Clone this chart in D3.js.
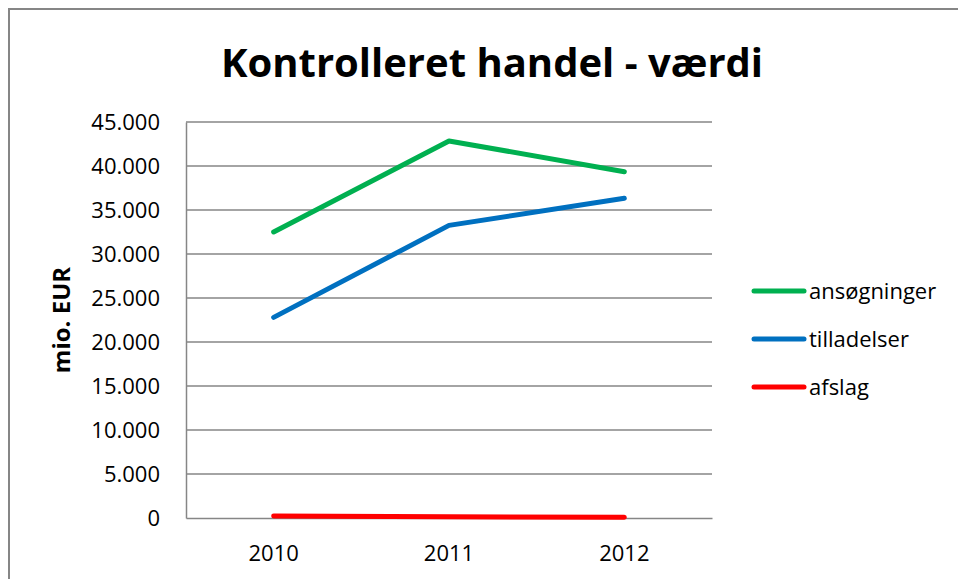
<!DOCTYPE html>
<html>
<head>
<meta charset="utf-8">
<script src="https://cdn.jsdelivr.net/npm/d3@7"></script>
<style>
  body { margin: 0; background: #fff; }
  text { font-family: "Open Sans", "Noto Sans", sans-serif; fill: #000; }
</style>
</head>
<body>
<div id="chart-area"></div>
<script>
let years = ["2010", "2011", "2012"]
let ansoegninger = [32500, 42850, 39350]
let tilladelser = [22800, 33250, 36330]
let afslag = [230, 150, 80]
let seriesNames = ["ansøgninger", "tilladelser", "afslag"]
let seriesColors = ["#00b050", "#0070c0", "#ff0000"]
let yTicks = [0, 5000, 10000, 15000, 20000, 25000, 30000, 35000, 40000, 45000]

let margin = { top: 122, right: 246, bottom: 61, left: 186 }
let width = 958, height = 579
let canvasWidth = width - margin.left - margin.right
let canvasHeight = height - margin.top - margin.bottom

let svg = d3.select("#chart-area").append("svg")
  .attr("width", width)
  .attr("height", height)

// outer frame (runs off the right and bottom edge)
svg.append("rect")
  .attr("x", 9).attr("y", 9)
  .attr("width", 960).attr("height", 600)
  .attr("fill", "none")
  .attr("stroke", "#868686")
  .attr("stroke-width", 2)

svg.append("text")
  .attr("x", 492).attr("y", 77)
  .attr("text-anchor", "middle")
  .style("font-size", "40px")
  .style("font-weight", "bold")
  .text("Kontrolleret handel - værdi")

let g = svg.append("g")
  .attr("transform", "translate(" + margin.left + "," + margin.top + ")")

let x = d3.scaleBand().domain(years).range([0, canvasWidth])
let y = d3.scaleLinear().domain([0, 45000]).range([canvasHeight, 0])

let fmt = v => d3.format(",")(v).replace(/,/g, ".")

// gridlines
g.selectAll(".grid").data(yTicks.filter(d => d > 0)).enter()
  .append("line")
    .attr("x1", 0).attr("x2", canvasWidth)
    .attr("y1", d => y(d)).attr("y2", d => y(d))
    .attr("stroke", "#868686")
    .attr("stroke-width", 1.5)

let yAxis = g.append("g")
  .call(d3.axisLeft(y).tickValues(yTicks).tickFormat(fmt).tickSize(0).tickPadding(26))
yAxis.select(".domain").attr("stroke", "#868686").attr("stroke-width", 1.5)
yAxis.selectAll("text").style("font-size", "22px").attr("font-family", null).attr("dy", "0.35em")

let xAxis = g.append("g")
  .attr("transform", "translate(0," + canvasHeight + ")")
  .call(d3.axisBottom(x).tickSize(0).tickPadding(27))
xAxis.select(".domain").attr("stroke", "#868686").attr("stroke-width", 1.5)
xAxis.selectAll("text").style("font-size", "22px").attr("font-family", null)

svg.append("text")
  .attr("transform", "translate(70," + (margin.top + canvasHeight / 2) + ") rotate(-90)")
  .attr("text-anchor", "middle")
  .style("font-size", "24px")
  .style("font-weight", "bold")
  .text("mio. EUR")

let allSeries = [ansoegninger, tilladelser, afslag]
let line = d3.line()
  .x((d, i) => x(years[i]) + x.bandwidth() / 2)
  .y(d => y(d))

g.selectAll(".series").data(allSeries).enter()
  .append("path")
    .attr("d", d => line(d))
    .attr("fill", "none")
    .attr("stroke", (d, i) => seriesColors[i])
    .attr("stroke-width", 5)
    .attr("stroke-linecap", "round")
    .attr("stroke-linejoin", "round")

let legendY = [291, 339, 387]
let legend = svg.selectAll(".legend").data(seriesNames).enter()
  .append("g")
    .attr("transform", (d, i) => "translate(752," + legendY[i] + ")")
legend.append("line")
  .attr("x1", 2).attr("x2", 52)
  .attr("stroke", (d, i) => seriesColors[i])
  .attr("stroke-width", 5)
  .attr("stroke-linecap", "round")
legend.append("text")
  .attr("x", 57).attr("dy", "0.35em")
  .style("font-size", "22px")
  .text(d => d)
</script>
</body>
</html>
